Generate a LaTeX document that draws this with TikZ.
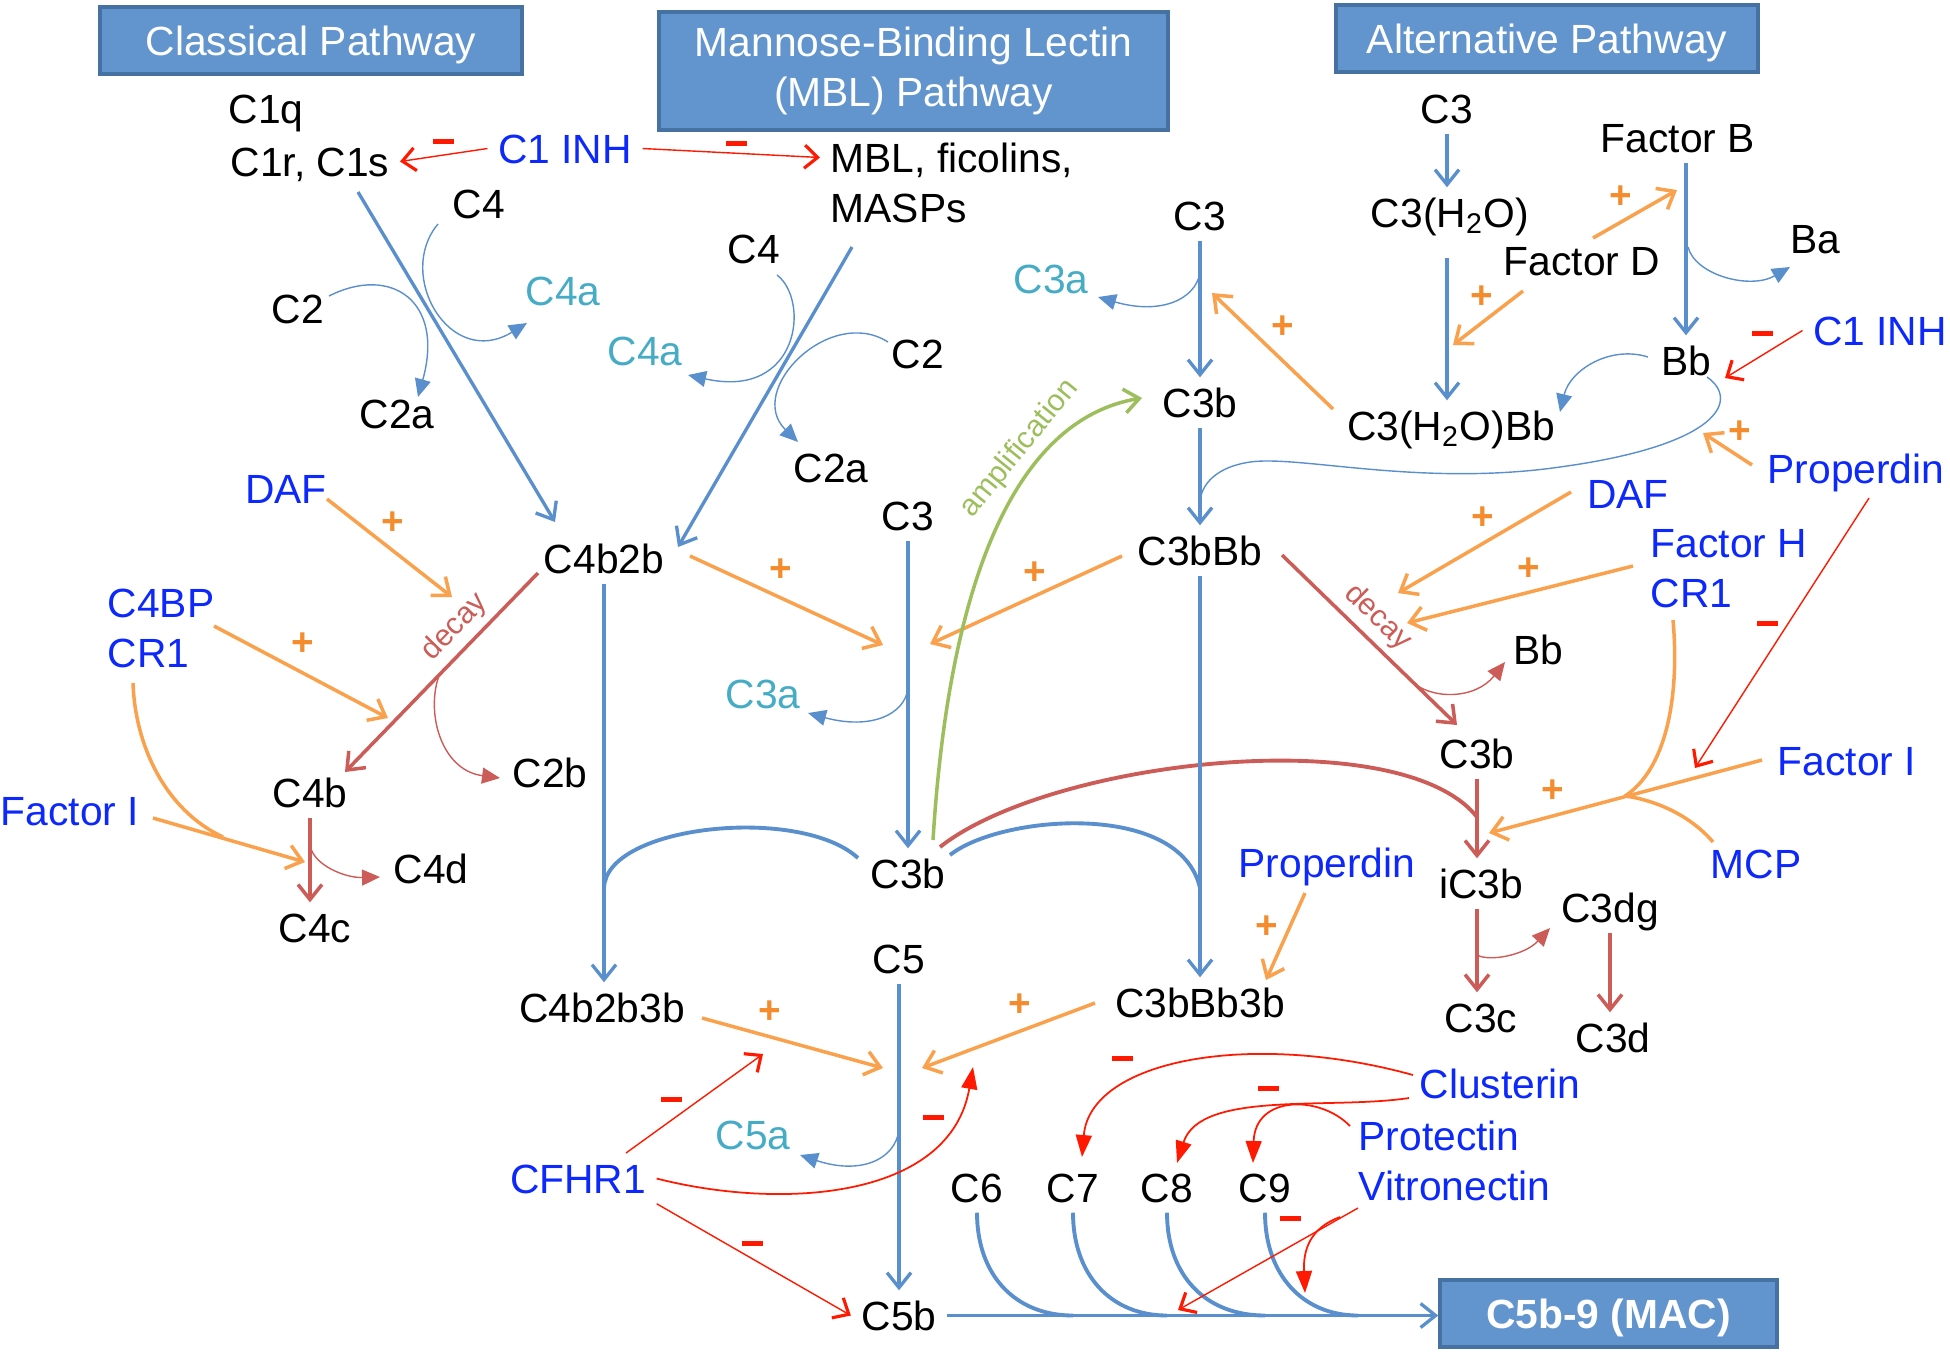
\documentclass[tikz,border=0pt]{standalone}
\usepackage{fontspec}
\setmainfont{Liberation Sans}
\usetikzlibrary{arrows.meta}

\definecolor{hdrfill}{RGB}{98,149,205}
\definecolor{hdrline}{RGB}{70,114,163}
\definecolor{pathblue}{RGB}{90,143,205}
\definecolor{actorange}{RGB}{249,161,77}
\definecolor{plusorange}{RGB}{244,140,45}
\definecolor{decayred}{RGB}{204,92,87}
\definecolor{inhred}{RGB}{255,25,0}
\definecolor{ampgreen}{RGB}{157,190,92}
\definecolor{fragteal}{RGB}{70,172,198}
\definecolor{regblue}{RGB}{12,40,250}

\tikzset{
  lbl/.style={inner sep=1mm, text height=2.9mm, text depth=0pt, anchor=base, font=\fontsize{11.6}{14}\selectfont},
  mol/.style={lbl},
  reg/.style={lbl, text=regblue},
  frag/.style={lbl, text=fragteal},
  hdr/.style={draw=hdrline, line width=1pt, fill=hdrfill, text=white, align=center, inner sep=0pt, font=\fontsize{11.6}{14.2}\selectfont},
  smalltxt/.style={font=\fontsize{8.6}{9}\selectfont, inner sep=0.6mm},
  plussign/.style={text=plusorange, inner sep=0pt, font=\fontsize{11}{11}\selectfont\bfseries},
  minussign/.style={fill=inhred, minimum width=2.1mm, minimum height=0.5mm, inner sep=0pt},
  bluearr/.style={draw=pathblue, line width=0.95pt, -{Straight Barb[length=1.5mm,width=2.4mm]}},
  blueline/.style={draw=pathblue, line width=1.1pt},
  bluelink/.style={draw=pathblue, line width=0.4pt},
  bluethin/.style={draw=pathblue, line width=0.4pt, -{Triangle[length=1.8mm,width=1.6mm]}},
  actarr/.style={draw=actorange, line width=1pt, -{Straight Barb[length=1.5mm,width=2.4mm]}},
  actline/.style={draw=actorange, line width=1pt},
  decayarr/.style={draw=decayred, line width=1pt, -{Straight Barb[length=1.5mm,width=2.4mm]}},
  decayline/.style={draw=decayred, line width=1.1pt},
  decaythin/.style={draw=decayred, line width=0.4pt, -{Triangle[length=1.8mm,width=1.6mm]}},
  inharr/.style={draw=inhred, line width=0.4pt, -{Straight Barb[length=1.3mm,width=2.3mm,line width=0.9pt]}},
  inhcurve/.style={draw=inhred, line width=0.5pt, -{Triangle[length=2.2mm,width=1.6mm]}},
  amparr/.style={draw=ampgreen, line width=1pt, -{Straight Barb[length=1.5mm,width=2.4mm]}}
}

\begin{document}
\begin{tikzpicture}[x=0.1mm,y=-0.1mm]
	\useasboundingbox (0,0) rectangle (1950,1352);
	% pathway headers
	\node[hdr, minimum width=42.2mm, minimum height=6.7mm, text height=2.9mm, text depth=0pt] (hdrcl) at (311,40.5) {Classical Pathway};
	\node[hdr, minimum width=50.9mm, minimum height=11.8mm] (hdrmbl) at (913.5,71) {Mannose-Binding Lectin\\(MBL) Pathway};
	\node[hdr, minimum width=42.2mm, minimum height=6.7mm, text height=2.9mm, text depth=0pt] (hdralt) at (1547,38.5) {Alternative Pathway};
	\node[hdr, minimum width=33.7mm, minimum height=6.7mm, text height=2.9mm, text depth=0pt, font=\fontsize{11.6}{14}\selectfont\bfseries] (mac) at (1608.5,1313.5) {C5b-9 (MAC)};

	% classical and MBL pathways
	\node[mol] (c1q) at (266,123) {C1q};
	\node[mol] (c1r) at (310,176) {C1r, C1s};
	\node[reg] (inh) at (565,163) {C1 INH};
	\node[mol, anchor=base west] (mbl) at (820,172) {MBL, ficolins,};
	\node[mol, anchor=base west] (masps) at (820,222) {MASPs};
	\node[mol] (c4cl) at (479,218) {C4};
	\node[mol] (c2cl) at (298,323) {C2};
	\node[frag] (c4acl) at (563,305) {C4a};
	\node[mol] (c2acl) at (397,428) {C2a};
	\node[mol] (c4mbl) at (754,263) {C4};
	\node[frag] (c4ambl) at (645,365) {C4a};
	\node[mol] (c2mbl) at (918,368) {C2};
	\node[mol] (c2ambl) at (831,482) {C2a};
	\node[mol] (c4b2b) at (604,573) {C4b2b};
	\node[reg] (dafl) at (286,503) {DAF};
	\node[reg, anchor=base west] (c4bp) at (97,617) {C4BP};
	\node[reg, anchor=base west] (cr1l) at (97,667) {CR1};
	\node[reg] (facil) at (70,825) {Factor I};
	\node[mol] (c4b) at (310,807) {C4b};
	\node[mol] (c4c) at (315,942) {C4c};
	\node[mol] (c4d) at (431,883) {C4d};
	\node[mol] (c2b) at (550,787) {C2b};
	\node[mol] (c4b2b3b) at (602,1022) {C4b2b3b};
	\node[reg] (cfhr) at (578,1193) {CFHR1};

	% C3 and C5 in the middle
	\node[mol] (c3mid) at (908,530) {C3};
	\node[frag] (c3amid) at (763,708) {C3a};
	\node[mol] (c3bmid) at (908,888) {C3b};
	\node[mol] (c5) at (899,973) {C5};
	\node[frag] (c5a) at (753,1149) {C5a};
	\node[mol] (c5b) at (899,1330) {C5b};
	\node[mol] (c6) at (977,1202) {C6};
	\node[mol] (c7) at (1073,1202) {C7};
	\node[mol] (c8) at (1167,1202) {C8};
	\node[mol] (c9) at (1265,1202) {C9};

	% alternative pathway
	\node[mol] (c3top) at (1200,230) {C3};
	\node[frag] (c3atop) at (1051,293) {C3a};
	\node[mol] (c3btop) at (1200,417) {C3b};
	\node[mol] (c3bbb) at (1200,565) {C3bBb};
	\node[mol] (c3bbb3b) at (1200,1017) {C3bBb3b};
	\node[reg] (propl) at (1327,877) {Properdin};
	\node[mol] (c3alt) at (1447,123) {C3};
	\node[mol] (c3h2o) at (1450,227) {C3(H\textsubscript{2}O)};
	\node[mol] (c3h2obb) at (1451,440) {C3(H\textsubscript{2}O)Bb};
	\node[mol] (facb) at (1678,152) {Factor B};
	\node[mol] (facd) at (1582,275) {Factor D};
	\node[mol] (ba) at (1815,253) {Ba};
	\node[mol] (bb) at (1686,375) {Bb};
	\node[reg] (inhr) at (1880,345) {C1 INH};
	\node[reg] (propr) at (1856,483) {Properdin};
	\node[reg] (dafr) at (1628,508) {DAF};
	\node[reg, anchor=base west] (fach) at (1640,557) {Factor H};
	\node[reg, anchor=base west] (cr1r) at (1640,607) {CR1};
	\node[mol] (bbr) at (1538,664) {Bb};
	\node[mol] (c3br) at (1477,768) {C3b};
	\node[reg] (facir) at (1847,775) {Factor I};
	\node[reg] (mcp) at (1756,878) {MCP};
	\node[mol] (ic3b) at (1481,898) {iC3b};
	\node[mol] (c3dg) at (1610,922) {C3dg};
	\node[mol] (c3c) at (1481,1032) {C3c};
	\node[mol] (c3d) at (1613,1052) {C3d};
	\node[reg, anchor=base west] (clus) at (1409,1098) {Clusterin};
	\node[reg, anchor=base west] (prot) at (1348,1150) {Protectin};
	\node[reg, anchor=base west] (vitr) at (1348,1200) {Vitronectin};

	% free ends of the regulator arrows
	\coordinate (dafhit) at (452,597);
	\coordinate (c4bphit) at (388,718);
	\coordinate (facihit) at (305,862);
	\coordinate (cr1join) at (223,837);
	\coordinate (c3hitl) at (883,645);
	\coordinate (c3hitr) at (930,644);
	\coordinate (c3tophit) at (1212,293);
	\coordinate (facbhit) at (1677,190);
	\coordinate (h2ohit) at (1453,345);
	\coordinate (prophit) at (1703,433);
	\coordinate (dafrhit) at (1398,593);
	\coordinate (fachhit) at (1407,623);
	\coordinate (fijoin) at (1625,796);
	\coordinate (fihit) at (1489,833);
	\coordinate (prophitr) at (1695,768);
	\coordinate (bb3bhit) at (1266,980);
	\coordinate (c5hitl) at (883,1068);
	\coordinate (c5hitr) at (922,1068);
	\coordinate (cfhrhit) at (763,1054);
	\coordinate (cfhrcurvehit) at (973,1067);
	\coordinate (vithit) at (1178,1310);
	\coordinate (vitcurvehit) at (1305,1293);
	\coordinate (c9end) at (1358,1315.5);

	% classical pathway
	\draw[inharr] (inh.west) -- (c1r.east);
	\draw[inharr] (inh.east) -- (mbl.west);
	\draw[bluearr] ([shift={(48,16)}]c1r.base) -- ([shift={(-49,-51)}]c4b2b.base);
	\draw[bluethin] ([shift={(-41,6)}]c4cl.base) .. controls (395,275) and (450,370) .. ([shift={(-36,18)}]c4acl.base);
	\draw[bluethin] ([shift={(31,-27)}]c2cl.base) .. controls (390,265) and (445,300) .. ([shift={(21,-31)}]c2acl.base);
	\draw[bluearr] ([shift={(32,25)}]masps.base west) -- ([shift={(74,-26)}]c4b2b.base);
	\draw[bluethin] ([shift={(23,12)}]c4mbl.base) .. controls (810,300) and (800,400) .. ([shift={(43,10)}]c4ambl.base);
	\draw[bluethin] ([shift={(-30,-26)}]c2mbl.base) .. controls (830,305) and (745,390) .. ([shift={(-33,-40)}]c2ambl.base);
	\draw[decayarr] ([shift={(-66,0)}]c4b2b.base) -- ([shift={(35,-35)}]c4b.base) node[pos=0.35, sloped, above, smalltxt, text=decayred] (decl) {decay};
	\draw[decaythin] ([shift={(-164,100)}]c4b2b.base) .. controls (425,710) and (440,770) .. ([shift={(-50,-9)}]c2b.base);
	\draw[decayarr] (c4b.south) -- (c4b.south |- c4c.north);
	\draw[decaythin] ([shift={(0,38)}]c4b.base) .. controls (313,865) and (345,878) .. ([shift={(-51,-6)}]c4d.base);
	\draw[actarr] ([shift={(41,-4)}]dafl.base) -- (dafhit);
	\draw[actarr] ([shift={(117,9)}]c4bp.base west) -- (c4bphit);
	\draw[actarr] ([shift={(83,-7)}]facil.base) -- (facihit);
	\draw[actline] ([shift={(36,16)}]cr1l.base west) .. controls (135,745) and (165,810) .. (cr1join);
	\draw[bluearr] (c4b2b.south) -- (c4b2b.south |- c4b2b3b.north);
	\draw[blueline] (c4b2b.south |- c3bmid.base) .. controls (606,825) and (800,805) .. ([shift={(-50,-30)}]c3bmid.base);
	\draw[blueline] ([shift={(42,-33)}]c3bmid.base) .. controls (1000,815) and (1180,800) .. (c3bbb.south |- c3bmid.base);

	% C3 cleavage
	\draw[actarr] ([shift={(86,-17)}]c4b2b.base) -- (c3hitl);
	\draw[bluearr] (c3mid.south) -- (c3mid.south |- c3bmid.north);
	\draw[bluethin] ([shift={(145,-20)}]c3amid.base) .. controls (905,715) and (870,730) .. ([shift={(45,5)}]c3amid.base);
	\draw[actarr] ([shift={(-78,-9)}]c3bbb.base) -- (c3hitr);
	\draw[amparr] ([shift={(25,-48)}]c3bmid.base) .. controls (950,565) and (1022,418) .. ([shift={(-58,-19)}]c3btop.base) node[pos=0.66, sloped, above, smalltxt, text=ampgreen] (ampl) {amplification};
	\draw[decayline] ([shift={(32,-41)}]c3bmid.base) .. controls (1050,760) and (1400,720) .. ([shift={(0,49)}]c3br.base);

	% C5 and the MAC
	\draw[actarr] ([shift={(100,-4)}]c4b2b3b.base) -- (c5hitl);
	\draw[actarr] ([shift={(-105,-14)}]c3bbb3b.base) -- (c5hitr);
	\draw[bluearr] (c5.south) -- (c5.south |- c5b.north);
	\draw[bluethin] ([shift={(0,157)}]c5.base) .. controls (895,1160) and (860,1175) .. ([shift={(47,6)}]c5a.base);
	\draw[bluearr] (c5b.east) -- (c5b.east -| mac.west);
	\draw[inharr] ([shift={(48,-40)}]cfhr.base) -- (cfhrhit);
	\draw[inhcurve] (cfhr.east) .. controls (780,1210) and (950,1200) .. (cfhrcurvehit);
	\draw[inharr] (cfhr.south east) -- (c5b.west);
	\draw[blueline] (c6.south) .. controls (977,1275) and (1015,1315.5) .. (c7 |- c5b.east);
	\draw[blueline] (c7.south) .. controls (1073,1275) and (1111,1315.5) .. (c8 |- c5b.east);
	\draw[blueline] (c8.south) .. controls (1167,1275) and (1205,1315.5) .. (c9 |- c5b.east);
	\draw[blueline] (c9.south) .. controls (1265,1275) and (1303,1315.5) .. (c9end);
	\draw[inhcurve] ([shift={(4,-23)}]clus.base west) .. controls (1250,1030) and (1090,1060) .. ([shift={(9,-45)}]c7.base);
	\draw[inhcurve] (clus.base west) .. controls (1330,1110) and (1200,1090) .. ([shift={(10,-39)}]c8.base);
	\draw[inhcurve] ([shift={(2,-24)}]prot.base west) .. controls (1320,1095) and (1255,1095) .. ([shift={(-12,-39)}]c9.base);
	\draw[inharr] ([shift={(10,8)}]vitr.base west) -- (vithit);
	\draw[inhcurve] ([shift={(-8,17)}]vitr.base west) .. controls (1310,1228) and (1303,1250) .. (vitcurvehit);

	% alternative pathway
	\draw[bluearr] (c3alt.south) -- (c3alt.south |- c3h2o.north);
	\draw[bluearr, shorten <=2mm] (c3alt.south |- c3h2o.south) -- (c3alt.south |- c3h2obb.north);
	\draw[bluearr] (facb.south -| bb) -- (bb.north);
	\draw[bluethin] ([shift={(10,95)}]facb.base) .. controls (1695,275) and (1750,290) .. ([shift={(-25,14)}]ba.base);
	\draw[actarr] ([shift={(11,-37)}]facd.base) -- (facbhit);
	\draw[actarr] ([shift={(-59,16)}]facd.base) -- (h2ohit);
	\draw[bluethin] ([shift={(-38,-18)}]bb.base) .. controls (1610,345) and (1570,370) .. ([shift={(109,-28)}]c3h2obb.base);
	\draw[inharr] (inhr.west) -- ([shift={(39,3)}]bb.base);
	\draw[bluelink] ([shift={(21,2)}]bb.base) .. controls (1740,400) and (1720,445) .. (1560,467) .. controls (1420,487) and (1300,455) .. (1250,462) .. controls (1210,468) and (1200,490) .. ([shift={(0,-62)}]c3bbb.base);
	\draw[actarr] ([shift={(-118,-31)}]c3h2obb.base) -- (c3tophit);
	\draw[bluearr] (c3top.south) -- (c3top.south |- c3btop.north);
	\draw[bluethin] ([shift={(0,43)}]c3top.base) .. controls (1195,300) and (1160,315) .. ([shift={(47,4)}]c3atop.base);
	\draw[bluearr] (c3btop.south) -- (c3btop.south |- c3bbb.north);
	\draw[bluearr] (c3bbb.south) -- (c3bbb.south |- c3bbb3b.north);
	\draw[actarr] ([shift={(-104,-18)}]propr.base) -- (prophit);
	\draw[decayarr] ([shift={(82,-10)}]c3bbb.base) -- ([shift={(-20,-43)}]c3br.base) node[pos=0.46, sloped, above, smalltxt, text=decayred] (decr) {decay};
	\draw[decaythin] ([shift={(210,115)}]c3bbb.base) .. controls (1430,700) and (1475,700) .. ([shift={(-33,-2)}]bbr.base);
	\draw[actarr] ([shift={(-57,-16)}]dafr.base) -- (dafrhit);
	\draw[actarr] ([shift={(-7,9)}]fach.base west) -- (fachhit);
	\draw[inharr] ([shift={(13,15)}]propr.base) -- (prophitr);
	\draw[actarr] ([shift={(-85,-15)}]facir.base) -- (fihit);
	\draw[actline] ([shift={(33,13)}]cr1r.base west) .. controls (1680,700) and (1665,770) .. (fijoin);
	\draw[actline] ([shift={(-43,-36)}]mcp.base) .. controls (1690,815) and (1655,800) .. (fijoin);
	\draw[decayarr] (c3br.south) -- (c3br.south |- ic3b.north);
	\draw[decayarr] (c3br.south |- ic3b.south) -- (c3br.south |- c3c.north);
	\draw[decaythin] ([shift={(-4,57)}]ic3b.base) .. controls (1490,962) and (1525,955) .. ([shift={(-60,6)}]c3dg.base);
	\draw[decayarr] (c3dg.south) -- (c3dg.south |- c3d.north);
	\draw[actarr] ([shift={(-22,16)}]propl.base) -- (bb3bhit);

	% plus signs
	\node[plussign] (pl1) at (393,523) {+};
	\node[plussign] (pl2) at (303,644) {+};
	\node[plussign] (pl3) at (781,570) {+};
	\node[plussign] (pl4) at (1035,573) {+};
	\node[plussign] (pl5) at (1283,327) {+};
	\node[plussign] (pl6) at (1621,197) {+};
	\node[plussign] (pl7) at (1482,297) {+};
	\node[plussign] (pl8) at (1740,432) {+};
	\node[plussign] (pl9) at (1483,518) {+};
	\node[plussign] (pl10) at (1529,569) {+};
	\node[plussign] (pl11) at (1553,791) {+};
	\node[plussign] (pl12) at (1267,927) {+};
	\node[plussign] (pl13) at (770,1012) {+};
	\node[plussign] (pl14) at (1020,1005) {+};

	% minus signs
	\node[minussign] (mi1) at (443,141) {};
	\node[minussign] (mi2) at (736,143) {};
	\node[minussign] (mi3) at (1762,333) {};
	\node[minussign] (mi4) at (1767,623) {};
	\node[minussign] (mi5) at (671,1099) {};
	\node[minussign] (mi6) at (933,1117) {};
	\node[minussign] (mi7) at (752,1243) {};
	\node[minussign] (mi8) at (1122,1058) {};
	\node[minussign] (mi9) at (1268,1088) {};
	\node[minussign] (mi10) at (1290,1218) {};
\end{tikzpicture}
\end{document}
